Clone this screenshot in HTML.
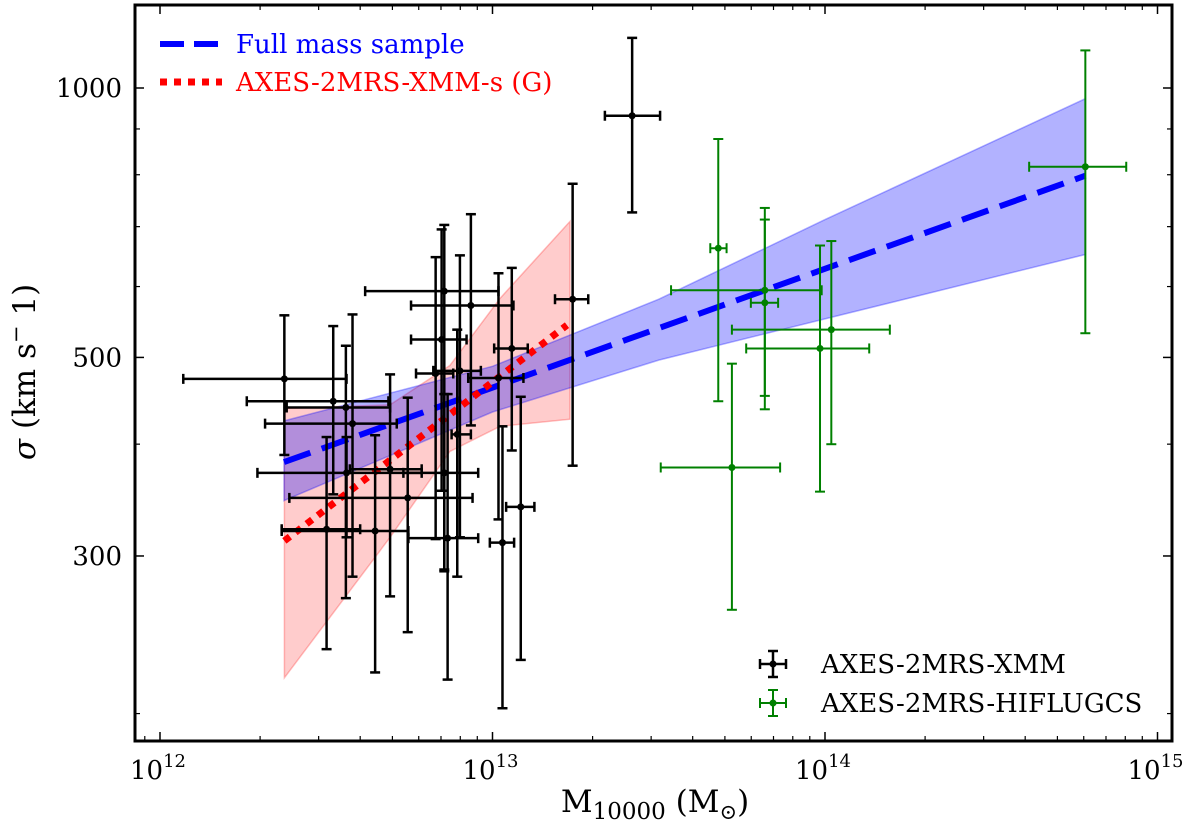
<!DOCTYPE html>
<html><head><meta charset="utf-8">
<style>
html,body{margin:0;padding:0;background:#fff;}
svg{display:block;}
text{font-family:"DejaVu Serif","Liberation Serif",serif;}
</style></head>
<body>
<svg id="chart" width="1200" height="830" viewBox="0 0 1200 830" xmlns="http://www.w3.org/2000/svg">
<g id="bands"></g>
<g id="lines"></g>
<g id="points"></g>
<g id="axes"></g>
<g id="legend"></g>
</svg>
<script>
// ---- data (log10 of mass in Msun, log10 of sigma in km/s) ----
const xmmLogM    = [12.374,12.521,12.559,12.579,12.561,12.692,12.745,12.501,12.647,12.865,12.855,12.935,12.847,12.829,12.902,12.894,12.855,13.018,13.058,13.085,13.030,13.241,13.420];
const xmmLogMLo  = [12.070,12.261,12.381,12.316,12.293,12.571,12.389,12.366,12.366,12.747,12.617,12.755,12.755,12.770,12.822,12.877,12.732,12.927,13.005,13.041,12.992,13.188,13.338];
const xmmLogMHi  = [12.561,12.687,12.692,12.712,12.787,12.787,12.940,12.602,12.747,12.957,13.018,13.063,12.922,12.882,12.965,12.935,12.957,13.093,13.106,13.126,13.065,13.288,13.504];
const xmmLogS    = [2.675,2.650,2.643,2.625,2.570,2.574,2.542,2.507,2.505,2.497,2.773,2.757,2.719,2.681,2.684,2.613,2.570,2.676,2.709,2.532,2.492,2.764,2.969];
const xmmLogSHi  = [2.746,2.734,2.712,2.747,2.610,2.680,2.654,2.610,2.612,2.658,2.847,2.859,2.842,2.811,2.813,2.730,2.658,2.793,2.799,2.655,2.622,2.893,3.056];
const xmmLogSLo  = [2.590,2.546,2.430,2.454,2.498,2.432,2.392,2.373,2.347,2.339,2.460,2.623,2.550,2.496,2.498,2.454,2.462,2.518,2.595,2.361,2.307,2.578,2.861];

const hifLogM    = [14.783,13.679,13.819,13.819,14.019,13.985,13.720];
const hifLogMLo  = [14.614,13.655,13.537,13.777,13.720,13.763,13.506];
const hifLogMHi  = [14.906,13.704,13.990,13.859,14.195,14.133,13.865];
const hifLogS    = [2.912,2.821,2.774,2.760,2.730,2.709,2.576];
const hifLogSHi  = [3.042,2.943,2.866,2.853,2.829,2.824,2.692];
const hifLogSLo  = [2.726,2.650,2.641,2.656,2.602,2.549,2.417];

const fullLineM  = [12.373,14.783];
const fullLineS  = [2.582,2.902];
const fullBandM  = [12.373,13.0,13.5,14.0,14.783];
const fullBandHi = [2.628,2.689,2.764,2.853,2.988];
const fullBandLo = [2.539,2.638,2.696,2.742,2.814];

const grpLineM   = [12.374,13.224];
const grpLineS   = [2.494,2.735];
const grpBandM   = [12.374,12.692,12.872,13.023,13.233];
const grpBandHi  = [2.642,2.646,2.690,2.765,2.851];
const grpBandLo  = [2.341,2.498,2.594,2.622,2.630];

const xTickExp   = [12,13,14,15];
const yTickVals  = [300,500,1000];
const yMinorVals = [200,400,600,700,800,900];

// ---- axes mapping ----
const L=135,R=1172,T=5,B=741;
function X(lm){return 160+332.5*(lm-12);}
function Y(ls){return 88+895*(3-ls);}
const NS="http://www.w3.org/2000/svg";
function mk(tag,attrs,parent){const e=document.createElementNS(NS,tag);for(const k in attrs)e.setAttribute(k,attrs[k]);parent.appendChild(e);return e;}
const gB=document.getElementById('bands'),gL=document.getElementById('lines'),gP=document.getElementById('points'),gA=document.getElementById('axes'),gG=document.getElementById('legend');

function band(ms,hi,lo,fill,stroke,name){
  let d='M'+ms.map((m,i)=>X(m).toFixed(1)+','+Y(hi[i]).toFixed(1)).join(' L');
  for(let i=ms.length-1;i>=0;i--) d+=' L'+X(ms[i]).toFixed(1)+','+Y(lo[i]).toFixed(1);
  d+='Z';
  const p=mk('path',{d:d,fill:fill,stroke:stroke,'stroke-width':1.5},gB);
  
  
}
band(grpBandM,grpBandHi,grpBandLo,'rgba(255,0,0,0.2)','rgba(255,0,0,0.25)','group-fit-band');
band(fullBandM,fullBandHi,fullBandLo,'rgba(0,0,255,0.3)','rgba(0,0,255,0.3)','full-fit-band');

function errs(ms,mlo,mhi,ss,shi,slo,col,lw,name){
  for(let i=0;i<ms.length;i++){
    const g=mk('g',{stroke:col,'stroke-width':lw,fill:col},gP);
    
    
    const x=X(ms[i]),y=Y(ss[i]),x0=X(mlo[i]),x1=X(mhi[i]),y0=Y(shi[i]),y1=Y(slo[i]),c=5;
    mk('line',{x1:x0,y1:y,x2:x1,y2:y},g);
    mk('line',{x1:x,y1:y0,x2:x,y2:y1},g);
    mk('line',{x1:x0,y1:y-c,x2:x0,y2:y+c},g);
    mk('line',{x1:x1,y1:y-c,x2:x1,y2:y+c},g);
    mk('line',{x1:x-c,y1:y0,x2:x+c,y2:y0},g);
    mk('line',{x1:x-c,y1:y1,x2:x+c,y2:y1},g);
    mk('circle',{cx:x,cy:y,r:3.5,stroke:'none'},g);
  }
}
errs(xmmLogM,xmmLogMLo,xmmLogMHi,xmmLogS,xmmLogSHi,xmmLogSLo,'#000',2.5,'xmm-point');
errs(hifLogM,hifLogMLo,hifLogMHi,hifLogS,hifLogSHi,hifLogSLo,'#008000',2,'hiflugcs-point');

const fl=mk('line',{x1:X(fullLineM[0]),y1:Y(fullLineS[0]),x2:X(fullLineM[1]),y2:Y(fullLineS[1]),stroke:'#0000ff','stroke-width':6,'stroke-dasharray':'28 12'},gL);


const gl=mk('line',{x1:X(grpLineM[0]),y1:Y(grpLineS[0]),x2:X(grpLineM[1]),y2:Y(grpLineS[1]),stroke:'#ff0000','stroke-width':7,'stroke-dasharray':'7 7'},gL);



// frame
const fr=mk('rect',{x:L,y:T,width:R-L,height:B-T,fill:'none',stroke:'#000','stroke-width':3},gA);


// x ticks
xTickExp.forEach(e=>{
  const x=X(e);
  mk('line',{x1:x,y1:B,x2:x,y2:B-9,stroke:'#000','stroke-width':1.5},gA);
  mk('line',{x1:x,y1:T,x2:x,y2:T+9,stroke:'#000','stroke-width':1.5},gA);
  const t=mk('text',{x:x-2,y:B+38,'font-size':26,'text-anchor':'middle'},gA);
  
  
  t.textContent='10';
  const s=mk('tspan',{dy:-12,'font-size':18},t); s.textContent=String(e);
  if(e<15){for(let k=2;k<10;k++){const xm=X(e+Math.log10(k));
    mk('line',{x1:xm,y1:B,x2:xm,y2:B-5,stroke:'#000','stroke-width':1.2},gA);
    mk('line',{x1:xm,y1:T,x2:xm,y2:T+5,stroke:'#000','stroke-width':1.2},gA);}}
});
[0.8,0.9].forEach(f=>{const xm=X(11+Math.log10(f*10));if(xm>L){mk('line',{x1:xm,y1:B,x2:xm,y2:B-5,stroke:'#000','stroke-width':1.2},gA);}});
// y ticks
yTickVals.forEach(v=>{
  const y=Y(Math.log10(v));
  mk('line',{x1:L,y1:y,x2:L+9,y2:y,stroke:'#000','stroke-width':1.5},gA);
  mk('line',{x1:R,y1:y,x2:R-9,y2:y,stroke:'#000','stroke-width':1.5},gA);
  const t=mk('text',{x:122,y:y+9,'font-size':26,'text-anchor':'end'},gA);
  
  
  t.textContent=String(v);
});
yMinorVals.forEach(v=>{
  const y=Y(Math.log10(v));
  mk('line',{x1:L,y1:y,x2:L+5,y2:y,stroke:'#000','stroke-width':1.2},gA);
  mk('line',{x1:R,y1:y,x2:R-5,y2:y,stroke:'#000','stroke-width':1.2},gA);
});
</script>
<svg style="position:absolute;left:0;top:0" width="1200" height="830" xmlns="http://www.w3.org/2000/svg">
  <text x="655" y="812" font-size="31" text-anchor="middle" font-family="DejaVu Serif, serif">M<tspan font-size="23" dy="7">10000</tspan><tspan dy="-7"> (M</tspan><tspan font-size="21" dy="7">⊙</tspan><tspan dy="-7">)</tspan></text>
  <text transform="translate(35,372) rotate(-90)" font-size="31" text-anchor="middle" font-family="DejaVu Serif, serif"><tspan font-style="italic">σ</tspan> (km s<tspan font-size="21" dy="-12">−</tspan><tspan dy="12"> 1)</tspan></text>
  <g>
    <line x1="160" y1="44" x2="222" y2="44" stroke="#0000ff" stroke-width="6" stroke-dasharray="24 10"/>
    <text x="236" y="53" font-size="26" fill="#0000ff" font-family="DejaVu Serif, serif">Full mass sample</text>
    <line x1="160" y1="82" x2="222" y2="82" stroke="#ff0000" stroke-width="7" stroke-dasharray="7 7"/>
    <text x="236" y="91" font-size="26" fill="#ff0000" font-family="DejaVu Serif, serif">AXES-2MRS-XMM-s (G)</text>
  </g>
  <g>
    <g stroke="#000" stroke-width="2.5"><line x1="760" y1="664" x2="786" y2="664"/><line x1="773" y1="651" x2="773" y2="677"/><line x1="760" y1="659" x2="760" y2="669"/><line x1="786" y1="659" x2="786" y2="669"/><line x1="768" y1="651" x2="778" y2="651"/><line x1="768" y1="677" x2="778" y2="677"/></g>
    <circle cx="773" cy="664" r="3.5" fill="#000"/>
    <text x="821" y="673" font-size="26" font-family="DejaVu Serif, serif">AXES-2MRS-XMM</text>
    <g stroke="#008000" stroke-width="2"><line x1="760" y1="703" x2="786" y2="703"/><line x1="773" y1="690" x2="773" y2="716"/><line x1="760" y1="698" x2="760" y2="708"/><line x1="786" y1="698" x2="786" y2="708"/><line x1="768" y1="690" x2="778" y2="690"/><line x1="768" y1="716" x2="778" y2="716"/></g>
    <circle cx="773" cy="703" r="3.5" fill="#008000"/>
    <text x="821" y="712" font-size="26" font-family="DejaVu Serif, serif">AXES-2MRS-HIFLUGCS</text>
  </g>
</svg>
</body></html>
